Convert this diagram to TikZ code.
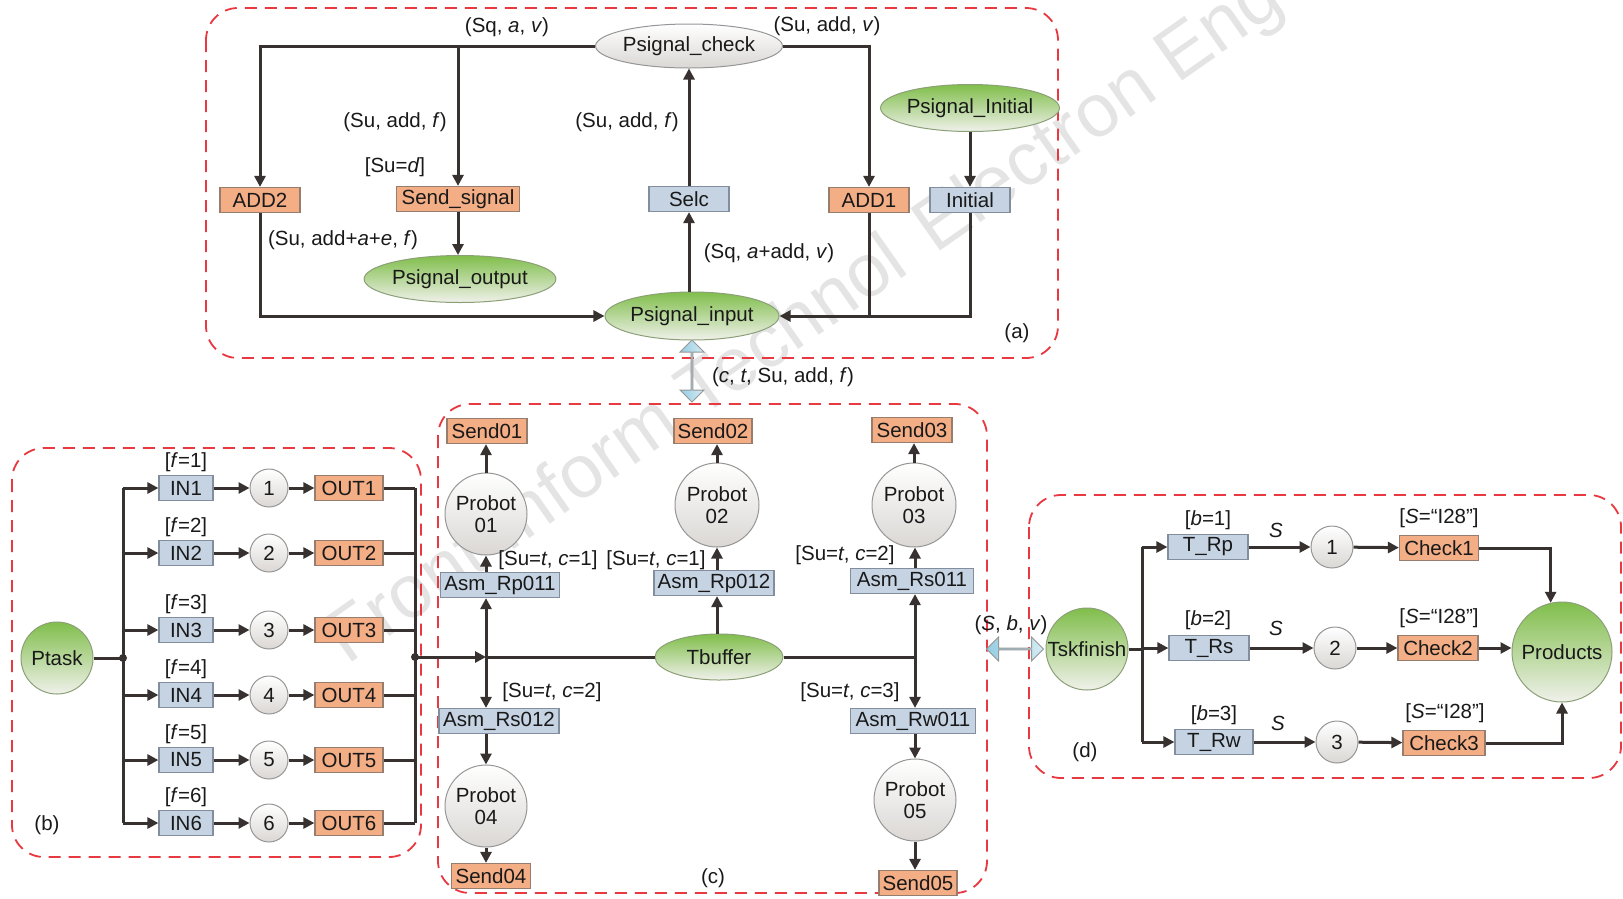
\documentclass[tikz,border=0pt]{standalone}
\usepackage{fontspec}
\setmainfont{Liberation Sans}
\usetikzlibrary{arrows.meta,shapes.geometric,shapes.arrows,calc}
\definecolor{ink}{RGB}{55,50,47}
\definecolor{orf}{RGB}{243,174,134}
\definecolor{ord}{RGB}{150,125,110}
\definecolor{blf}{RGB}{197,211,227}
\definecolor{bld}{RGB}{130,142,158}
\definecolor{grt}{RGB}{128,190,75}
\definecolor{grb}{RGB}{240,241,235}
\definecolor{grd}{RGB}{140,160,120}
\definecolor{pld}{RGB}{150,150,150}
\definecolor{plb}{RGB}{218,215,212}
\definecolor{dred}{RGB}{232,56,64}
\definecolor{abl}{RGB}{150,205,226}
\definecolor{wm}{RGB}{228,228,228}
\begin{document}
\begin{tikzpicture}[x=1pt,y=-1pt,
  every node/.style={text=black!90,font=\fontsize{20.5}{22.5}\selectfont},
  tb/.style={rectangle,draw=ord,fill=orf,line width=1.2pt,minimum height=25pt,inner sep=1pt},
  bt/.style={rectangle,draw=bld,fill=blf,line width=1.2pt,minimum height=25pt,inner sep=1pt},
  gpl/.style={ellipse,draw=grd,line width=1pt,top color=grt,bottom color=grb,inner sep=0pt},
  gcir/.style={circle,draw=grd,line width=1pt,top color=grt,bottom color=grb,inner sep=0pt},
  wpl/.style={circle,draw=pld,line width=1pt,top color=white,bottom color=plb,inner sep=0pt},
  wel/.style={ellipse,draw=pld,line width=1pt,top color=white,bottom color=plb,inner sep=0pt},
  ln/.style={draw=ink,line width=3pt},
  arr/.style={draw=ink,line width=3pt,-{Triangle[length=11pt,width=11pt]}},
  darr/.style={draw=ink,line width=3pt,{Triangle[length=11pt,width=11pt]}-{Triangle[length=11pt,width=11pt]}},
  redbox/.style={draw=dred,line width=1.8pt,dash pattern=on 12pt off 8pt,rounded corners=32pt},
  fat/.style={double arrow,draw=pld,line width=1pt,left color=abl,right color=abl!40,minimum width=24pt,double arrow head extend=6.5pt,inner sep=0pt},
  wmk/.style={text=wm,font=\fontsize{75}{75}\selectfont,rotate=35,anchor=base west}
]
\useasboundingbox (0,0) rectangle (1623,898);
% watermark
\node[wmk] (wm1) at (345,668) {Front};
\node[wmk] (wm2) at (505.5,555.5) {Inform};
\node[wmk] (wm3) at (696.4,421.8) {Technol};
\node[wmk] (wm4) at (932.2,256.4) {Electron};
\node[wmk] (wm5) at (1174.6,86.5) {Eng};

% panel frames
\draw[redbox] (206,8) rectangle (1058,358);
\draw[redbox] (12,448) rectangle (421,857);
\draw[redbox] (438,404) rectangle (987,893);
\draw[redbox] (1029,495) rectangle (1621,778);

% ---------------- panel (a)
\node[wel,minimum width=168pt,minimum height=44pt] (pcheck) at (689,46) {Psignal\_check};
\node[tb,minimum width=80pt] (add2) at (260,200) {ADD2};
\node[tb,minimum width=123pt] (sendsig) at (458,199) {Send\_signal};
\node[gpl,minimum width=187pt,minimum height=47pt] (pout) at (460,279) {Psignal\_output};
\node[gpl,minimum width=168pt,minimum height=48pt] (pin) at (692,316) {Psignal\_input};
\node[bt,minimum width=80pt] (selc) at (689,199) {Selc};
\node[tb,minimum width=80pt] (add1) at (869,200) {ADD1};
\node[gpl,minimum width=168pt,minimum height=47pt] (pinit) at (970,108) {Psignal\_Initial};
\node[bt,minimum width=80pt] (init) at (970,200) {Initial};

\draw[arr] (pcheck.west) -| (add2.north);
\draw[arr] (sendsig.north |- pcheck.west) -- (sendsig.north);
\draw[arr] (pcheck.east) -| (add1.north);
\draw[arr] (selc.south |- pin.north) -- (selc.south);
\draw[arr] (selc.north) -- (pcheck.south);
\draw[arr] (sendsig.south) -- (sendsig.south |- pout.north);
\draw[arr] (add2.south) |- (pin.west);
\draw[arr] (pinit.south) -- (init.north);
\draw[arr] (init.south) |- (pin.east);
\draw[ln] (add1.south) -- (add1.south |- pin.east);

\node (la1) at (507,27) {(Sq, \textit{a}, \textit{v})};
\node (la2) at (827,26) {(Su, add, \textit{v})};
\node (la3) at (395,122) {(Su, add, \textit{f})};
\node (la4) at (395,167) {[Su=\textit{d}]};
\node (la5) at (627,122) {(Su, add, \textit{f})};
\node (la6) at (343,240) {(Su, add+\textit{a}+\textit{e}, \textit{f})};
\node (la7) at (769,253) {(Sq, \textit{a}+add, \textit{v})};
\node (lpa) at (1017,333) {(a)};

% a <-> c
\node[fat,rotate=90,minimum height=62pt] (vac) at (692,371) {};
\node (lac) at (783,377) {(\textit{c}, \textit{t}, Su, add, \textit{f})};

% ---------------- panel (b)
\node[gcir,minimum size=72pt] (ptask) at (57,658) {Ptask};
\coordinate (lbus) at (123,658);
\coordinate (rbus) at (415,657);
\foreach \i/\y in {1/488,2/553,3/630,4/695,5/760,6/823}{
  \node[bt,minimum width=54pt] (in\i) at (186,\y) {IN\i};
  \node[wpl,minimum size=38pt] (c\i) at (269,\y) {\i};
  \node[tb,minimum width=68pt] (out\i) at (349,\y) {OUT\i};
  \node (lf\i) at (186,\y-26) {[\textit{f}=\i]};
  \draw[arr] (lbus |- in\i.west) -- (in\i.west);
  \draw[arr] (in\i) -- (c\i);
  \draw[arr] (c\i) -- (out\i);
  \draw[ln] (out\i.east) -- (rbus |- out\i.east);
}
\draw[ln] (ptask.east) -- (lbus);
\draw[ln] (lbus |- in1.west) -- (lbus |- in6.west);
\draw[ln] (rbus |- out1.east) -- (rbus |- out6.east);
\fill[ink] (lbus) circle (4pt);
\fill[ink] (rbus) circle (4pt);
\node (lpb) at (47,825) {(b)};

% ---------------- panel (c)
\node[tb,minimum width=80pt] (s01) at (487,431) {Send01};
\node[wpl,minimum size=82pt,align=center] (p01) at (486,514) {Probot\\01};
\node[bt,minimum width=119pt] (rp011) at (500,585) {Asm\_Rp011};
\node[bt,minimum width=120pt] (rs012) at (499,721) {Asm\_Rs012};
\node[wpl,minimum size=82pt,align=center] (p04) at (486,806) {Probot\\04};
\node[tb,minimum width=79pt] (s04) at (491,876) {Send04};

\node[tb,minimum width=78pt] (s02) at (713,431) {Send02};
\node[wpl,minimum size=84pt,align=center] (p02) at (717,505) {Probot\\02};
\node[bt,minimum width=120pt] (rp012) at (714,583) {Asm\_Rp012};
\node[gpl,minimum width=128pt,minimum height=46pt] (tbuf) at (719,657) {Tbuffer};

\node[tb,minimum width=80pt] (s03) at (912,430) {Send03};
\node[wpl,minimum size=84pt,align=center] (p03) at (914,505) {Probot\\03};
\node[bt,minimum width=123pt] (rs011) at (912,581) {Asm\_Rs011};
\node[bt,minimum width=125pt] (rw011) at (913,721) {Asm\_Rw011};
\node[wpl,minimum size=82pt,align=center] (p05) at (915,800) {Probot\\05};
\node[tb,minimum width=78pt] (s05) at (918,883) {Send05};

\node (lc1) at (548,560) {[Su=\textit{t}, \textit{c}=1]};
\node (lc2) at (656,560) {[Su=\textit{t}, \textit{c}=1]};
\node (lc3) at (845,555) {[Su=\textit{t}, \textit{c}=2]};
\node (lc4) at (552,692) {[Su=\textit{t}, \textit{c}=2]};
\node (lc5) at (850,692) {[Su=\textit{t}, \textit{c}=3]};
\node (lpc) at (713,878) {(c)};
\coordinate (cj1) at (486,657);
\coordinate (cj2) at (915,657);

\draw[arr] (p01.north) -- (p01.north |- s01.south);
\draw[arr] (p01.south |- rp011.north) -- (p01.south);
\draw[darr] (cj1 |- rp011.south) -- (cj1 |- rs012.north);
\draw[arr] (p04.north |- rs012.south) -- (p04.north);
\draw[arr] (p04.south) -- (p04.south |- s04.north);
\draw[arr] (rbus) -- (cj1);
\draw[ln] (cj1) -- (tbuf.west);

\draw[arr] (p02.north) -- (p02.north |- s02.south);
\draw[arr] (p02.south |- rp012.north) -- (p02.south);
\draw[arr] (p02.south |- tbuf.north) -- (p02.south |- rp012.south);

\draw[ln] (tbuf.east) -- (cj2);
\draw[arr] (p03.north) -- (p03.north |- s03.south);
\draw[arr] (cj2 |- rs011.north) -- (cj2 |- p03.south);
\draw[darr] (cj2 |- rs011.south) -- (cj2 |- rw011.north);
\draw[arr] (p05.north |- rw011.south) -- (p05.north);
\draw[arr] (p05.south) -- (p05.south |- s05.north);

% ---------------- panel (d)
\node[gcir,minimum size=82pt] (tsk) at (1087,649) {Tskfinish};
\node[bt,minimum width=80pt] (trp) at (1208,547) {T\_Rp};
\node[bt,minimum width=80pt] (trs) at (1209,648) {T\_Rs};
\node[bt,minimum width=78pt] (trw) at (1214,742) {T\_Rw};
\node[wpl,minimum size=42pt] (d1) at (1332,547) {1};
\node[wpl,minimum size=42pt] (d2) at (1335,648) {2};
\node[wpl,minimum size=42pt] (d3) at (1337,742) {3};
\node[tb,minimum width=79pt] (chk1) at (1439,548) {Check1};
\node[tb,minimum width=80pt] (chk2) at (1438,648) {Check2};
\node[tb,minimum width=82pt] (chk3) at (1444,743) {Check3};
\node[gcir,minimum size=100pt] (prod) at (1562,652) {Products};
\node (lb1) at (1208,520) {[\textit{b}=1]};
\node (lb2) at (1208,620) {[\textit{b}=2]};
\node (lb3) at (1214,715) {[\textit{b}=3]};
\node (ls1) at (1276,530) {\textit{S}};
\node (ls2) at (1276,628) {\textit{S}};
\node (ls3) at (1278,723) {\textit{S}};
\node (lq1) at (1439,518) {[\textit{S}=“I28”]};
\node (lq2) at (1439,618) {[\textit{S}=“I28”]};
\node (lq3) at (1445,713) {[\textit{S}=“I28”]};
\node (lpd) at (1085,752) {(d)};
\coordinate (dj) at (1142,649);
\draw[ln] (tsk.east) -- (dj);
\draw[ln] (dj |- trp.west) -- (dj |- trw.west);
\draw[arr] (dj |- trp.west) -- (trp.west);
\draw[arr] (dj |- trs.west) -- (trs.west);
\draw[arr] (dj |- trw.west) -- (trw.west);
\draw[arr] (trp) -- (d1);
\draw[arr] (trs) -- (d2);
\draw[arr] (trw) -- (d3);
\draw[arr] (d1) -- (chk1);
\draw[arr] (d2) -- (chk2);
\draw[arr] (d3) -- (chk3);
\draw[arr] (chk1.east) -| (prod.103);
\draw[arr] (chk2.east) -- (prod.west |- chk2.east);
\draw[arr] (chk3.east) -| (prod.south);

% c <-> d
\node[fat,minimum height=57pt] (hcd) at (1015,649) {};
\node (lcd) at (1011,625) {(\textit{S}, \textit{b}, \textit{v})};
\end{tikzpicture}
\end{document}
